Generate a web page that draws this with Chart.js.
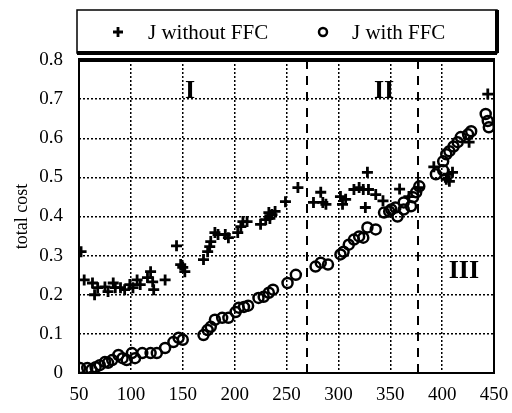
<!DOCTYPE html>
<html>
<head>
<meta charset="utf-8">
<script src="https://cdn.jsdelivr.net/npm/chart.js@4"></script>
<style>
    html, body { margin: 0; padding: 0; background: #fff; }
    #wrap { width: 512px; height: 413px; }
</style>
</head>
<body>
<div id="wrap"><canvas id="costChart" width="512" height="413"></canvas></div>
<script>
// cost without feed-forward compensation (plus markers)
const noFfcX = [52, 55, 63, 65, 68, 75, 78, 83, 85, 90, 94, 99, 102, 106, 109, 116, 119, 121, 122, 133,
    144, 148, 150, 152, 170, 174, 176, 177, 181, 184, 191, 194, 203, 206, 208, 212, 225, 230, 233, 234,
    236, 239, 249, 261, 276, 283, 285, 288, 302, 304, 307, 315, 320, 324, 326, 328, 329, 336, 343, 359,
    368, 377, 392, 404, 406, 407, 410, 426, 444];
const noFfcY = [0.31, 0.238, 0.23, 0.2, 0.218, 0.22, 0.208, 0.23, 0.218, 0.218, 0.213, 0.226, 0.218, 0.238, 0.226, 0.244, 0.259, 0.233, 0.213, 0.238,
    0.325, 0.277, 0.27, 0.259, 0.29, 0.31, 0.323, 0.336, 0.359, 0.354, 0.354, 0.346, 0.359, 0.374, 0.387, 0.387, 0.38, 0.392, 0.41, 0.395,
    0.405, 0.413, 0.438, 0.474, 0.436, 0.462, 0.436, 0.431, 0.451, 0.431, 0.444, 0.469, 0.474, 0.469, 0.423, 0.513, 0.469, 0.456, 0.44, 0.47,
    0.451, 0.474, 0.527, 0.495, 0.508, 0.49, 0.513, 0.59, 0.713];

// cost with feed-forward compensation (circle markers)
const ffcX = [51, 58, 62, 66, 70, 75, 78, 82, 88, 92, 96, 101, 104, 111, 119, 125, 133, 141, 146, 150,
    170, 174, 177, 181, 188, 194, 201, 204, 209, 213, 223, 228, 233, 237, 251, 259, 278, 283, 290, 302,
    305, 310, 315, 320, 324, 328, 336, 344, 349, 351, 355, 357, 363, 363, 370, 372, 375, 378, 394, 401,
    401, 404, 407, 411, 415, 418, 425, 428, 442, 444, 445];
const ffcY = [0.013, 0.013, 0.008, 0.015, 0.02, 0.028, 0.026, 0.033, 0.046, 0.038, 0.033, 0.051, 0.038, 0.051, 0.051, 0.051, 0.064, 0.079, 0.09, 0.085,
    0.097, 0.11, 0.118, 0.136, 0.141, 0.141, 0.156, 0.167, 0.169, 0.172, 0.192, 0.195, 0.205, 0.213, 0.23, 0.251, 0.272, 0.282, 0.277, 0.303,
    0.31, 0.328, 0.341, 0.349, 0.346, 0.372, 0.367, 0.41, 0.413, 0.418, 0.423, 0.4, 0.418, 0.436, 0.426, 0.449, 0.462, 0.477, 0.508, 0.518,
    0.541, 0.559, 0.567, 0.579, 0.59, 0.603, 0.61, 0.618, 0.662, 0.644, 0.628];

const xTicks = [50, 100, 150, 200, 250, 300, 350, 400, 450];
const yTicks = [0, 0.1, 0.2, 0.3, 0.4, 0.5, 0.6, 0.7, 0.8];
const yTickLabels = ['0', '0.1', '0.2', '0.3', '0.4', '0.5', '0.6', '0.7', '0.8'];

// region borders and labels
const regionBounds = [270, 377];
const regionNames = ['I', 'II', 'III'];
const regionX = [157, 344, 421];
const regionY = [0.72, 0.72, 0.26];

const serif = '"Liberation Serif", "DejaVu Serif", serif';

function toPoints(xs, ys) {
    return xs.map((x, i) => ({ x: x, y: ys[i] }));
}

// draws the dashed region lines, the roman numerals, frame and legend box
const decorPlugin = {
    id: 'decor',
    beforeDatasetsDraw(chart) {
        const ctx = chart.ctx;
        const area = chart.chartArea;
        const xs = chart.scales.x;
        const ys = chart.scales.y;
        ctx.save();
        ctx.strokeStyle = '#000';
        ctx.lineWidth = 2;
        ctx.setLineDash([9, 7]);
        regionBounds.forEach(v => {
            const px = Math.round(xs.getPixelForValue(v));
            ctx.beginPath();
            ctx.moveTo(px, area.top);
            ctx.lineTo(px, area.bottom);
            ctx.stroke();
        });
        ctx.setLineDash([]);
        ctx.fillStyle = '#000';
        ctx.font = 'bold 26px ' + serif;
        ctx.textAlign = 'center';
        ctx.textBaseline = 'middle';
        regionNames.forEach((name, i) => {
            ctx.fillText(name, xs.getPixelForValue(regionX[i]), ys.getPixelForValue(regionY[i]));
        });
        ctx.restore();
    },
    afterDraw(chart) {
        const ctx = chart.ctx;
        const area = chart.chartArea;
        ctx.save();
        ctx.strokeStyle = '#000';
        // plot frame
        ctx.lineWidth = 2;
        ctx.strokeRect(area.left, area.top, area.right - area.left, area.bottom - area.top);
        ctx.lineWidth = 4;
        ctx.beginPath();
        ctx.moveTo(area.left - 1, area.top);
        ctx.lineTo(area.right + 1, area.top);
        ctx.stroke();

        // legend box
        const bx = area.left - 2, by = 10, bw = area.right - area.left + 5, bh = 43;
        ctx.lineWidth = 1.5;
        ctx.strokeRect(bx, by, bw, bh);
        ctx.lineWidth = 4;
        ctx.beginPath();
        ctx.moveTo(bx, by + bh);
        ctx.lineTo(bx + bw, by + bh);
        ctx.moveTo(bx + bw, by);
        ctx.lineTo(bx + bw, by + bh);
        ctx.stroke();

        const items = [
            { sym: 'cross', x: 118, tx: 148 },
            { sym: 'circle', x: 323, tx: 352 }
        ];
        const cy = 32;
        ctx.fillStyle = '#000';
        ctx.font = '21px ' + serif;
        ctx.textAlign = 'left';
        ctx.textBaseline = 'middle';
        chart.data.datasets.forEach((ds, i) => {
            const it = items[i];
            ctx.lineWidth = ds.borderWidth;
            ctx.beginPath();
            if (it.sym === 'cross') {
                ctx.moveTo(it.x - 5, cy);
                ctx.lineTo(it.x + 5, cy);
                ctx.moveTo(it.x, cy - 5);
                ctx.lineTo(it.x, cy + 5);
            } else {
                ctx.arc(it.x, cy, 4, 0, Math.PI * 2);
            }
            ctx.stroke();
            ctx.fillText(ds.label, it.tx, cy + 1);
        });
        ctx.restore();
    }
};

const ctx = document.getElementById('costChart').getContext('2d');
const costChart = new Chart(ctx, {
    type: 'scatter',
    data: {
        datasets: [{
            label: 'J without FFC',
            data: toPoints(noFfcX, noFfcY),
            pointStyle: 'cross',
            pointRadius: 5.5,
            borderColor: '#000',
            backgroundColor: '#000',
            borderWidth: 2.8
        }, {
            label: 'J with FFC',
            data: toPoints(ffcX, ffcY),
            pointStyle: 'circle',
            pointRadius: 5,
            borderColor: '#000',
            backgroundColor: 'rgba(255,255,255,0)',
            borderWidth: 2.5
        }]
    },
    options: {
        responsive: false,
        animation: false,
        events: [],
        layout: {
            padding: { top: 60, right: 18, bottom: 0, left: 0 }
        },
        plugins: {
            legend: { display: false },
            tooltip: { enabled: false }
        },
        scales: {
            x: {
                type: 'linear',
                min: 50,
                max: 450,
                afterBuildTicks: scale => { scale.ticks = xTicks.map(v => ({ value: v })); },
                afterFit: scale => {
                    scale.height = 40;
                    scale.paddingLeft = 0;
                    scale.paddingRight = 0;
                },
                ticks: {
                    color: '#000',
                    font: { family: serif, size: 19 },
                    padding: 11,
                    maxRotation: 0
                },
                grid: {
                    color: '#000',
                    lineWidth: 1.5,
                    drawTicks: false
                },
                border: { display: false, dash: [2, 2] }
            },
            y: {
                type: 'linear',
                min: 0,
                max: 0.8,
                afterBuildTicks: scale => { scale.ticks = yTicks.map(v => ({ value: v })); },
                afterFit: scale => { scale.width = 79; },
                ticks: {
                    color: '#000',
                    font: { family: serif, size: 19 },
                    padding: 16,
                    callback: (value, index) => yTickLabels[index]
                },
                title: {
                    display: true,
                    text: 'total cost',
                    color: '#000',
                    font: { family: serif, size: 18 },
                    padding: { top: 11, bottom: 0 }
                },
                grid: {
                    color: '#000',
                    lineWidth: 1.5,
                    drawTicks: false
                },
                border: { display: false, dash: [2, 2] }
            }
        }
    },
    plugins: [decorPlugin]
});
</script>
</body>
</html>
